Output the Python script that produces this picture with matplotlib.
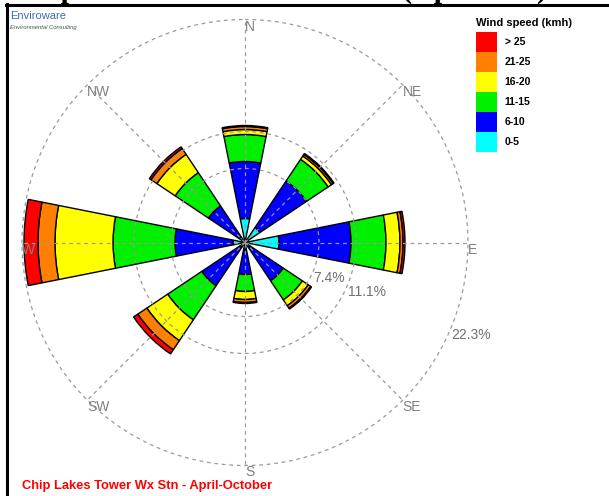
import numpy as np
import matplotlib
matplotlib.use("Agg")
import matplotlib.pyplot as plt
from matplotlib.patches import Patch
from matplotlib.lines import Line2D

plt.rcParams['font.family'] = ['Liberation Sans', 'DejaVu Sans']

# ---- data -------------------------------------------------------------
directions = ['N', 'NE', 'E', 'SE', 'S', 'SW', 'W', 'NW']
speed_labels = ['0-5', '6-10', '11-15', '16-20', '21-25', '> 25']
# frequency (%) per direction for each wind-speed class
freq_0_5   = [2.4, 1.8, 3.4, 0.6, 0.7, 0.6, 1.2, 0.7]
freq_6_10  = [5.7, 5.6, 7.2, 4.0, 2.5, 4.6, 5.8, 3.7]
freq_11_15 = [2.7, 2.6, 3.5, 2.3, 1.7, 4.1, 6.2, 4.0]
freq_16_20 = [0.5, 0.4, 1.4, 0.7, 0.8, 2.5, 5.8, 2.2]
freq_21_25 = [0.3, 0.2, 0.3, 0.3, 0.3, 1.1, 1.7, 0.7]
freq_gt_25 = [0.1, 0.1, 0.2, 0.1, 0.1, 0.5, 1.4, 0.2]
ring_values = [7.4, 11.1, 22.3]
ring_labels = ['7.4%', '11.1%', '22.3%']

series = [freq_0_5, freq_6_10, freq_11_15, freq_16_20, freq_21_25, freq_gt_25]
colors = ['#00FFFF', '#0000FF', '#00F000', '#FFFF00', '#FF8000', '#FF0000']

# ---- figure -------------------------------------------------------------
W, H = 609, 496
fig = plt.figure(figsize=(W / 100, H / 100), dpi=100)
fig.patch.set_facecolor('white')

cx, cy = 245.0, 242.5          # centre of rose in pixels (from top-left)
px_per_pct = 10.0
rlim = 23.0
rad = rlim * px_per_pct
ax = fig.add_axes([(cx - rad) / W, (H - cy - rad) / H, 2 * rad / W, 2 * rad / H],
                  projection='polar')
ax.set_theta_zero_location('N')
ax.set_theta_direction(-1)
ax.set_ylim(0, rlim)
ax.set_axis_off()

theta = np.deg2rad(np.arange(len(directions)) * 360.0 / len(directions))
width = np.deg2rad(22.5)
bottom = np.zeros(len(directions))
for vals, c in zip(series, colors):
    vals = np.array(vals)
    ax.bar(theta, vals, width=width, bottom=bottom, color=c,
           edgecolor='black', linewidth=1.0, zorder=2)
    bottom += vals

grid_kw = dict(color='#9a9a9a', lw=0.9, ls=(0, (3, 3)), zorder=3)
tt = np.linspace(0, 2 * np.pi, 721)
for r in ring_values:
    ax.plot(tt, np.full_like(tt, r), **grid_kw)
for a in theta:
    ax.plot([a, a], [0, ring_values[-1]], **grid_kw)

for a, name in zip(theta, directions):
    ax.text(a, ring_values[-1], name, ha='left', va='top',
            color='#808080', fontsize=10, zorder=4)

lab_ang = np.deg2rad(112.5)
for r, lab in zip(ring_values, ring_labels):
    ax.text(lab_ang, r, lab, ha='left', va='top', color='#707070',
            fontsize=10, zorder=4)

# ---- legend -------------------------------------------------------------
handles = [Patch(facecolor=c, edgecolor='none') for c in colors][::-1]
leg = fig.legend(handles=handles, labels=speed_labels[::-1],
                 loc='upper left', bbox_to_anchor=(476 / W, 1 - 18.5 / H),
                 frameon=False, title='Wind speed (kmh)',
                 title_fontproperties={'weight': 'bold', 'size': 8},
                 prop={'weight': 'bold', 'size': 7.5},
                 handlelength=2.0, handleheight=2.575, labelspacing=0.0,
                 handletextpad=0.75, borderpad=0.0, borderaxespad=0.0,
                 alignment='left')
leg._legend_box.sep = 2.6

# ---- decorations / texts ------------------------------------------------
fig.text(14 / W, 1 + 2 / H, 'Chip Lakes Tower Wind Rose (April-Oct)',
         family=['Liberation Serif', 'DejaVu Serif'], weight='bold',
         fontsize=21.5, ha='left', va='baseline')
fig.add_artist(Line2D([7 / W, 7 / W], [0, 1 - 4 / H], color='black', lw=2.2,
                      transform=fig.transFigure))
fig.add_artist(Line2D([6 / W, 1], [1 - 5.3 / H, 1 - 5.3 / H], color='black',
                      lw=2.2, transform=fig.transFigure))

fig.text(10 / W, 1 - 16 / H, 'Enviroware', color='#3a6fb5', fontsize=8,
         ha='left', va='center')
fig.text(10 / W, 1 - 27 / H, 'Environmental Consulting', color='#3d5a3d',
         fontsize=4.2, style='italic', ha='left', va='center')

fig.text(22 / W, 1 - 486 / H, 'Chip Lakes Tower Wx Stn - April-October',
         color='red', fontweight='bold', fontsize=9.3, ha='left', va='center')

fig.savefig('out.png', dpi=100, facecolor='white')
